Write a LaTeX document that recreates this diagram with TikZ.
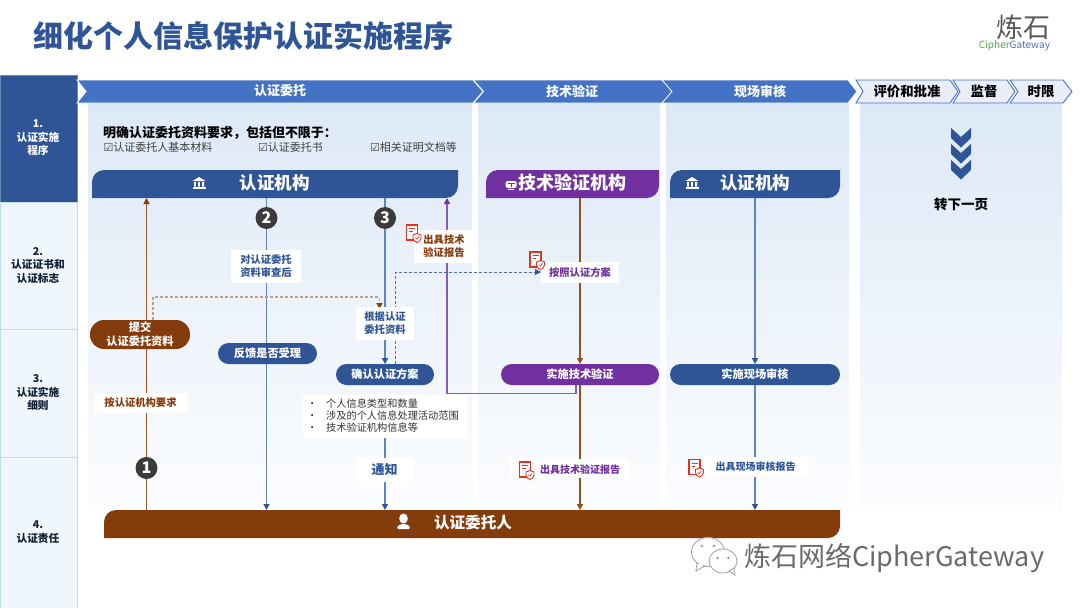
\documentclass[tikz,border=0pt]{standalone}
\usepackage{fontspec}
\setmainfont{Noto Sans CJK SC}
\newfontfamily\dejavu{DejaVu Sans}
\usetikzlibrary{arrows.meta,calc,shadings}
\definecolor{navy}{HTML}{2F5597}
\definecolor{hdr}{HTML}{4472C4}
\definecolor{brownc}{HTML}{843C0C}
\definecolor{purp}{HTML}{7030A0}
\definecolor{lbrown}{HTML}{A5582A}
\definecolor{lblue}{HTML}{5F84C2}
\definecolor{sidefill}{HTML}{EFF7FD}
\definecolor{sideline}{HTML}{BFDDF2}
\definecolor{redi}{HTML}{E8301E}
\definecolor{ptop}{HTML}{DDE9F6}
\definecolor{pbot}{HTML}{FCFDFF}
\definecolor{dashb}{HTML}{C4A088}
\tikzset{
  x=1pt,y=-1pt,
  every node/.style={inner sep=0pt,outer sep=0pt,align=center},
  hdrtxt/.style={text=white,font=\fontsize{13}{15}\selectfont\bfseries},
  hdrout/.style={text=black,font=\fontsize{13.4}{15}\selectfont\bfseries},
  barbox/.style={minimum height=28pt},
  pill/.style={rounded corners=10.5pt,text=white,font=\fontsize{11.2}{14}\selectfont\bfseries,minimum height=21pt},
  wlabel/.style={fill=white,font=\fontsize{10.3}{13}\selectfont\bfseries,inner xsep=3pt,inner ysep=3pt},
  num/.style={circle,fill=black!77,text=white,minimum size=22pt,font=\fontsize{16}{16}\selectfont\bfseries},
  side/.style={draw=sideline,fill=sidefill,line width=.8pt,minimum width=77pt,anchor=north west},
  sidetxt/.style={text=navy!35!black,font=\fontsize{10.7}{13.5}\selectfont\bfseries},
  panel/.style={top color=ptop,bottom color=pbot,draw=none},
  arr/.style={line width=1.2pt,-{Triangle[length=6pt,width=6pt]}},
  shdr/.style={fill=hdr,draw=white,line width=.8pt},
  souter/.style={fill=hdr!12!white,draw=hdr,line width=.9pt}
}
\newcommand\bartlbr[6]{% x1 y1 x2 y2 color radius
  \fill[#5] (#1,#4) -- (#1,#2+#6) .. controls (#1,#2+0.45*#6) and (#1+0.45*#6,#2) .. (#1+#6,#2) -- (#3,#2) -- (#3,#4-#6) .. controls (#3,#4-0.45*#6) and (#3-0.45*#6,#4) .. (#3-#6,#4) -- cycle;}
\newcommand\chev[5]{% left notch flatend tip style
  \path[#5] (#1,80) -- (#3,80) -- (#4,91.5) -- (#3,103) -- (#1,103) -- (#2,91.5) -- cycle;}
\newcommand\docicon[1]{%
  \begin{scope}[shift={(#1)}]
   \draw[redi,line width=1.1pt,fill=white] (0,0) rectangle (11,15);
   \draw[redi,line width=.9pt] (2.5,3.5) -- (8.5,3.5) (2.5,6.5) -- (6,6.5);
   \path[draw=redi,fill=white,line width=.9pt] (6.5,10) -- (10.5,8.5) -- (14.5,10) -- (14.5,13) .. controls (14.5,15.5) and (12,17) .. (10.5,17.5) .. controls (9,17) and (6.5,15.5) .. (6.5,13) -- cycle;
   \draw[redi,line width=.7pt] (8.7,12.7) -- (10.2,14.2) -- (12.6,11.4);
  \end{scope}}
\newcommand\bankicon[1]{%
  \begin{scope}[shift={(#1)}]
   \fill[white] (0,4) -- (6.5,0) -- (13,4) -- cycle;
   \fill[white] (1.5,5) rectangle (3.3,9.5) (5.6,5) rectangle (7.4,9.5) (9.7,5) rectangle (11.5,9.5);
   \fill[white] (0,10.3) rectangle (13,12);
  \end{scope}}
\begin{document}
\begin{tikzpicture}
\useasboundingbox (0,0) rectangle (1080,608);
\fill[white] (0,0) rectangle (1080,608);

% side column
\node[side,fill=navy,draw=navy!70!white,minimum height=127pt] (s1) at (0,75) {};
\node[side,minimum height=127pt] (s2) at (0,202) {};
\node[side,minimum height=128pt] (s3) at (0,329) {};
\node[side,minimum height=151pt] (s4) at (0,457) {};
\node[text=white,font=\fontsize{10.7}{13.5}\selectfont\bfseries] (s1t) at (38,138) {1.\\认证实施\\程序};
\node[sidetxt] (s2t) at (38,265.5) {2.\\认证证书和\\认证标志};
\node[sidetxt] (s3t) at (38,393) {3.\\认证实施\\细则};
\node[sidetxt] (s4t) at (38,532) {4.\\认证责任};

% panels
\path[panel] (88,103) rectangle (472,512);
\path[panel] (478,103) rectangle (660,512);
\path[panel] (666,103) rectangle (849,512);
\path[panel] (860,103) rectangle (1062,512);

% header chevrons
\chev{77}{86}{473}{483}{shdr}
\chev{473.5}{483.5}{663}{672}{shdr}
\chev{662}{672}{848}{857}{shdr}
\chev{856}{863}{950}{958}{souter}
\chev{953}{960}{1007}{1015}{souter}
\chev{1010}{1018}{1063}{1072}{souter}
\node[hdrtxt] (h1) at (280,91) {认证委托};
\node[hdrtxt] (h2) at (572,91) {技术验证};
\node[hdrtxt] (h3) at (760,91) {现场审核};
\node[hdrout] (h4) at (907,91) {评价和批准};
\node[hdrout] (h5) at (984,91) {监督};
\node[hdrout] (h6) at (1041,91) {时限};

% title and logo
\node[anchor=west,text=navy,font=\fontsize{30}{32}\selectfont\bfseries] (title) at (34,36) {细化个人信息保护认证实施程序};
\node[text=black!65,font=\fontsize{27}{29}\selectfont] (logo) at (1023,27) {炼石};
\node[anchor=east,font=\fontsize{10}{11}\selectfont] (logo2) at (1050,46) {\textcolor{green!50!black!70!white}{Cipher}\textcolor{hdr}{Gateway}};

% requirements
\node[anchor=west,text=black,font=\fontsize{13}{15}\selectfont\bfseries] (req) at (103,133) {明确认证委托资料要求，包括但不限于：};
\node[anchor=west,text=black!75,font=\fontsize{11}{12}\selectfont] (r1) at (103.5,147.5) {{\dejavu ☑}认证委托人基本材料};
\node[anchor=west,text=black!75,font=\fontsize{11}{12}\selectfont] (r2) at (258,147.5) {{\dejavu ☑}认证委托书};
\node[anchor=west,text=black!75,font=\fontsize{11}{12}\selectfont] (r3) at (370,147.5) {{\dejavu ☑}相关证明文档等};

% bars
\bartlbr{92}{170}{458}{198}{navy}{12}
\bartlbr{486}{170}{659}{198}{purp}{12}
\bartlbr{670}{170}{840}{198}{navy}{12}
\bartlbr{104}{510}{840}{538}{brownc}{12}
\node[barbox,minimum width=366pt] (org1) at (275,184) {};
\node[barbox,minimum width=173pt] (tech) at (572.5,184) {};
\node[barbox,minimum width=170pt] (org2) at (755,184) {};
\node[barbox,minimum width=736pt] (app) at (472,524) {};
\node[text=white,font=\fontsize{17.5}{18}\selectfont\bfseries] (org1t) at (274.5,183) {认证机构};
\node[text=white,font=\fontsize{18}{18}\selectfont\bfseries] (techt) at (572,183) {技术验证机构};
\node[text=white,font=\fontsize{17.5}{18}\selectfont\bfseries] (org2t) at (755,183) {认证机构};
\node[text=white,font=\fontsize{15.6}{16}\selectfont\bfseries] (appt) at (473,523) {认证委托人};
\bankicon{192.5,177}
\bankicon{685.5,177}
% monitor icon
\fill[white,rounded corners=1.5pt] (505.5,181) rectangle (516.5,188);
\draw[purp,line width=.8pt] (507.5,183.5) -- (514.5,183.5) (511,183.5) -- (511,187);
\fill[white] (508,188.5) rectangle (514,190);
% person icon
\fill[white] (403.5,518.5) circle[x radius=4.3,y radius=5];
\fill[white,rounded corners=1.5pt] (397,529) -- (397,526.5) -- (401,524) -- (406,524) -- (410,526.5) -- (410,529) -- cycle;

% pill placeholders fix geometry first, filled pills drawn after connectors
\node[pill,minimum width=100pt,minimum height=29pt] (p1) at (140,334.5) {};
\node[pill,minimum width=99pt] (p2) at (267.5,353.5) {};
\node[pill,minimum width=98pt] (p3) at (385,374.5) {};
\node[pill,minimum width=158pt] (p4) at (580,374.5) {};
\node[pill,minimum width=170pt] (p5) at (755,374.5) {};

% x positions
\coordinate (x1) at (146.5,0);
\coordinate (x2) at (266.5,0);
\coordinate (x3) at (385,0);
\coordinate (x4) at (580,0);
\coordinate (x5) at (755,0);
\coordinate (xp) at (447,0);
\coordinate (xdb) at (153,0);
\coordinate (xdr) at (379.5,0);
\coordinate (xbd) at (395.5,0);
\coordinate (xpu) at (576,0);
\coordinate (ybr) at (0,297);
\coordinate (ybl) at (0,272);
\coordinate (ypu) at (0,393.5);
\coordinate (bul) at (385,411);

% connectors
\draw[arr,lbrown,-{Triangle[length=6pt,width=6pt,fill=brownc,color=brownc]}] (app.north -| x1) -- (org1.south -| x1);
\draw[arr,lblue,-{Triangle[length=6pt,width=6pt,fill=navy,color=navy]}] (org1.south -| x2) -- (app.north -| x2);
\draw[arr,lblue,-{Triangle[length=6pt,width=6pt,fill=navy,color=navy]}] (org1.south -| x3) -- (p3.north);
\draw[arr,lblue,-{Triangle[length=6pt,width=6pt,fill=navy,color=navy]}] (bul) -- (app.north -| x3);
\draw[arr,brownc!90!white,line width=1.5pt] (tech.south -| x4) -- (p4.north);
\draw[arr,brownc!90!white,line width=1.5pt] (p4.south) -- (app.north -| x4);
\draw[arr,lblue,-{Triangle[length=6pt,width=6pt,fill=navy,color=navy]}] (org2.south -| x5) -- (p5.north);
\draw[arr,lblue,-{Triangle[length=6pt,width=6pt,fill=navy,color=navy]}] (p5.south) -- (app.north -| x5);
\draw[line width=1.3pt,purp!80!white,-{Triangle[length=6pt,width=6pt,fill=purp,color=purp]}] (p4.south -| xpu) -- (ypu -| xpu) -- (ypu -| xp) -- (org1.south -| xp);
\draw[line width=1.3pt,dashb,dash pattern=on 3pt off 2pt,-{Triangle[length=6pt,width=6pt,fill=brownc,color=brownc]}] (p1.north -| xdb) -- (ybr -| xdb) -- (ybr -| xdr) -- ($(ybr -| xdr)+(0,12)$);
\coordinate (dbend) at (541,272);
\draw[line width=.9pt,navy!85!white,dash pattern=on 3pt off 2pt,-{Triangle[length=6pt,width=6pt,fill=navy,color=navy]}] (p3.north -| xbd) -- (ybl -| xbd) -- (dbend);

% pills
\node[pill,fill=brownc,minimum width=100pt,minimum height=29pt,rounded corners=14pt] (p1f) at (p1) {提交\\认证委托资料};
\node[pill,fill=navy,minimum width=99pt] (p2f) at (p2) {反馈是否受理};
\node[pill,fill=navy,minimum width=98pt] (p3f) at (p3) {确认认证方案};
\node[pill,fill=purp,minimum width=158pt] (p4f) at (p4) {实施技术验证};
\node[pill,fill=navy,minimum width=170pt] (p5f) at (p5) {实施现场审核};

% white labels
\node[wlabel,text=navy,minimum width=70pt,minimum height=33pt] (l1) at (266,266.5) {对认证委托\\资料审查后};
\node[wlabel,text=navy,minimum width=58pt,minimum height=33pt] (l2) at (385,323) {根据认证\\委托资料};
\node[wlabel,text=brownc,minimum width=94pt,minimum height=20pt] (l3) at (140.5,403) {按认证机构要求};
\node[wlabel,text=brownc,minimum width=60pt,minimum height=33pt] (l4) at (444,246) {出具技术\\验证报告};
\node[wlabel,text=purp,minimum width=78pt,minimum height=21pt] (l5) at (580,272.5) {按照认证方案};
\node[wlabel,text=navy,font=\fontsize{13}{15}\selectfont\bfseries,minimum width=58pt,minimum height=24pt] (l6) at (384.5,470) {通知};
\node[wlabel,minimum width=120pt,minimum height=19pt] (l7) at (570,468.5) {};
\node[text=purp,font=\fontsize{10}{12}\selectfont\bfseries] (l7t) at (580,469.5) {出具技术验证报告};
\node[wlabel,minimum width=104pt,minimum height=20pt] (l8) at (757,467) {};
\node[text=navy,font=\fontsize{10}{12}\selectfont\bfseries] (l8t) at (755.5,467) {出具现场审核报告};
\node[fill=white,minimum width=165pt,minimum height=43pt] (l9) at (385,416.5) {};
\node[anchor=west,text=black!80,font=\fontsize{10.2}{11.8}\selectfont,align=left] (l9t) at (307,415.5) {•\hspace{9pt}个人信息类型和数量\\•\hspace{9pt}涉及的个人信息处理活动范围\\•\hspace{9pt}技术验证机构信息等};

% number badges
\node[num] (n1) at (146.5,468) {1};
\node[num] (n2) at (266.5,218) {2};
\node[num] (n3) at (385,218) {3};

% doc icons
\docicon{406.5,225}
\docicon{530,252}
\docicon{519.5,462}
\docicon{689,459.5}

% chevrons down
\foreach \y in {128,144,160}{
 \fill[navy] (951,\y) -- (961,\y+9) -- (971,\y) -- (971,\y+10) -- (961,\y+19.5) -- (951,\y+10) -- cycle;}
\node[text=black,font=\fontsize{13.5}{15}\selectfont\bfseries] (next) at (961,204) {转下一页};

% watermark
\node[anchor=west,text=black!58,font=\fontsize{27}{30}\selectfont] (wm) at (744,558.5) {炼石网络CipherGateway};
\path[draw=black!35,fill=white,line width=.9pt] (708,552) circle[x radius=16.5,y radius=14.5];
\path[draw=black!35,fill=white,line width=.9pt] (697,563) -- (696,571) -- (705,566) -- cycle;
\fill[white] (699,562) rectangle (704,565);
\fill[black!40] (702,546) circle[radius=1.4] (714,546) circle[radius=1.4];
\path[draw=black!35,fill=white,line width=.9pt] (723,561) circle[x radius=14,y radius=12];
\path[draw=black!35,fill=white,line width=.9pt] (729,571) -- (735,575) -- (734,568) -- cycle;
\fill[black!40] (717.5,558) circle[radius=1.3] (728.5,558) circle[radius=1.3];
\end{tikzpicture}
\end{document}
